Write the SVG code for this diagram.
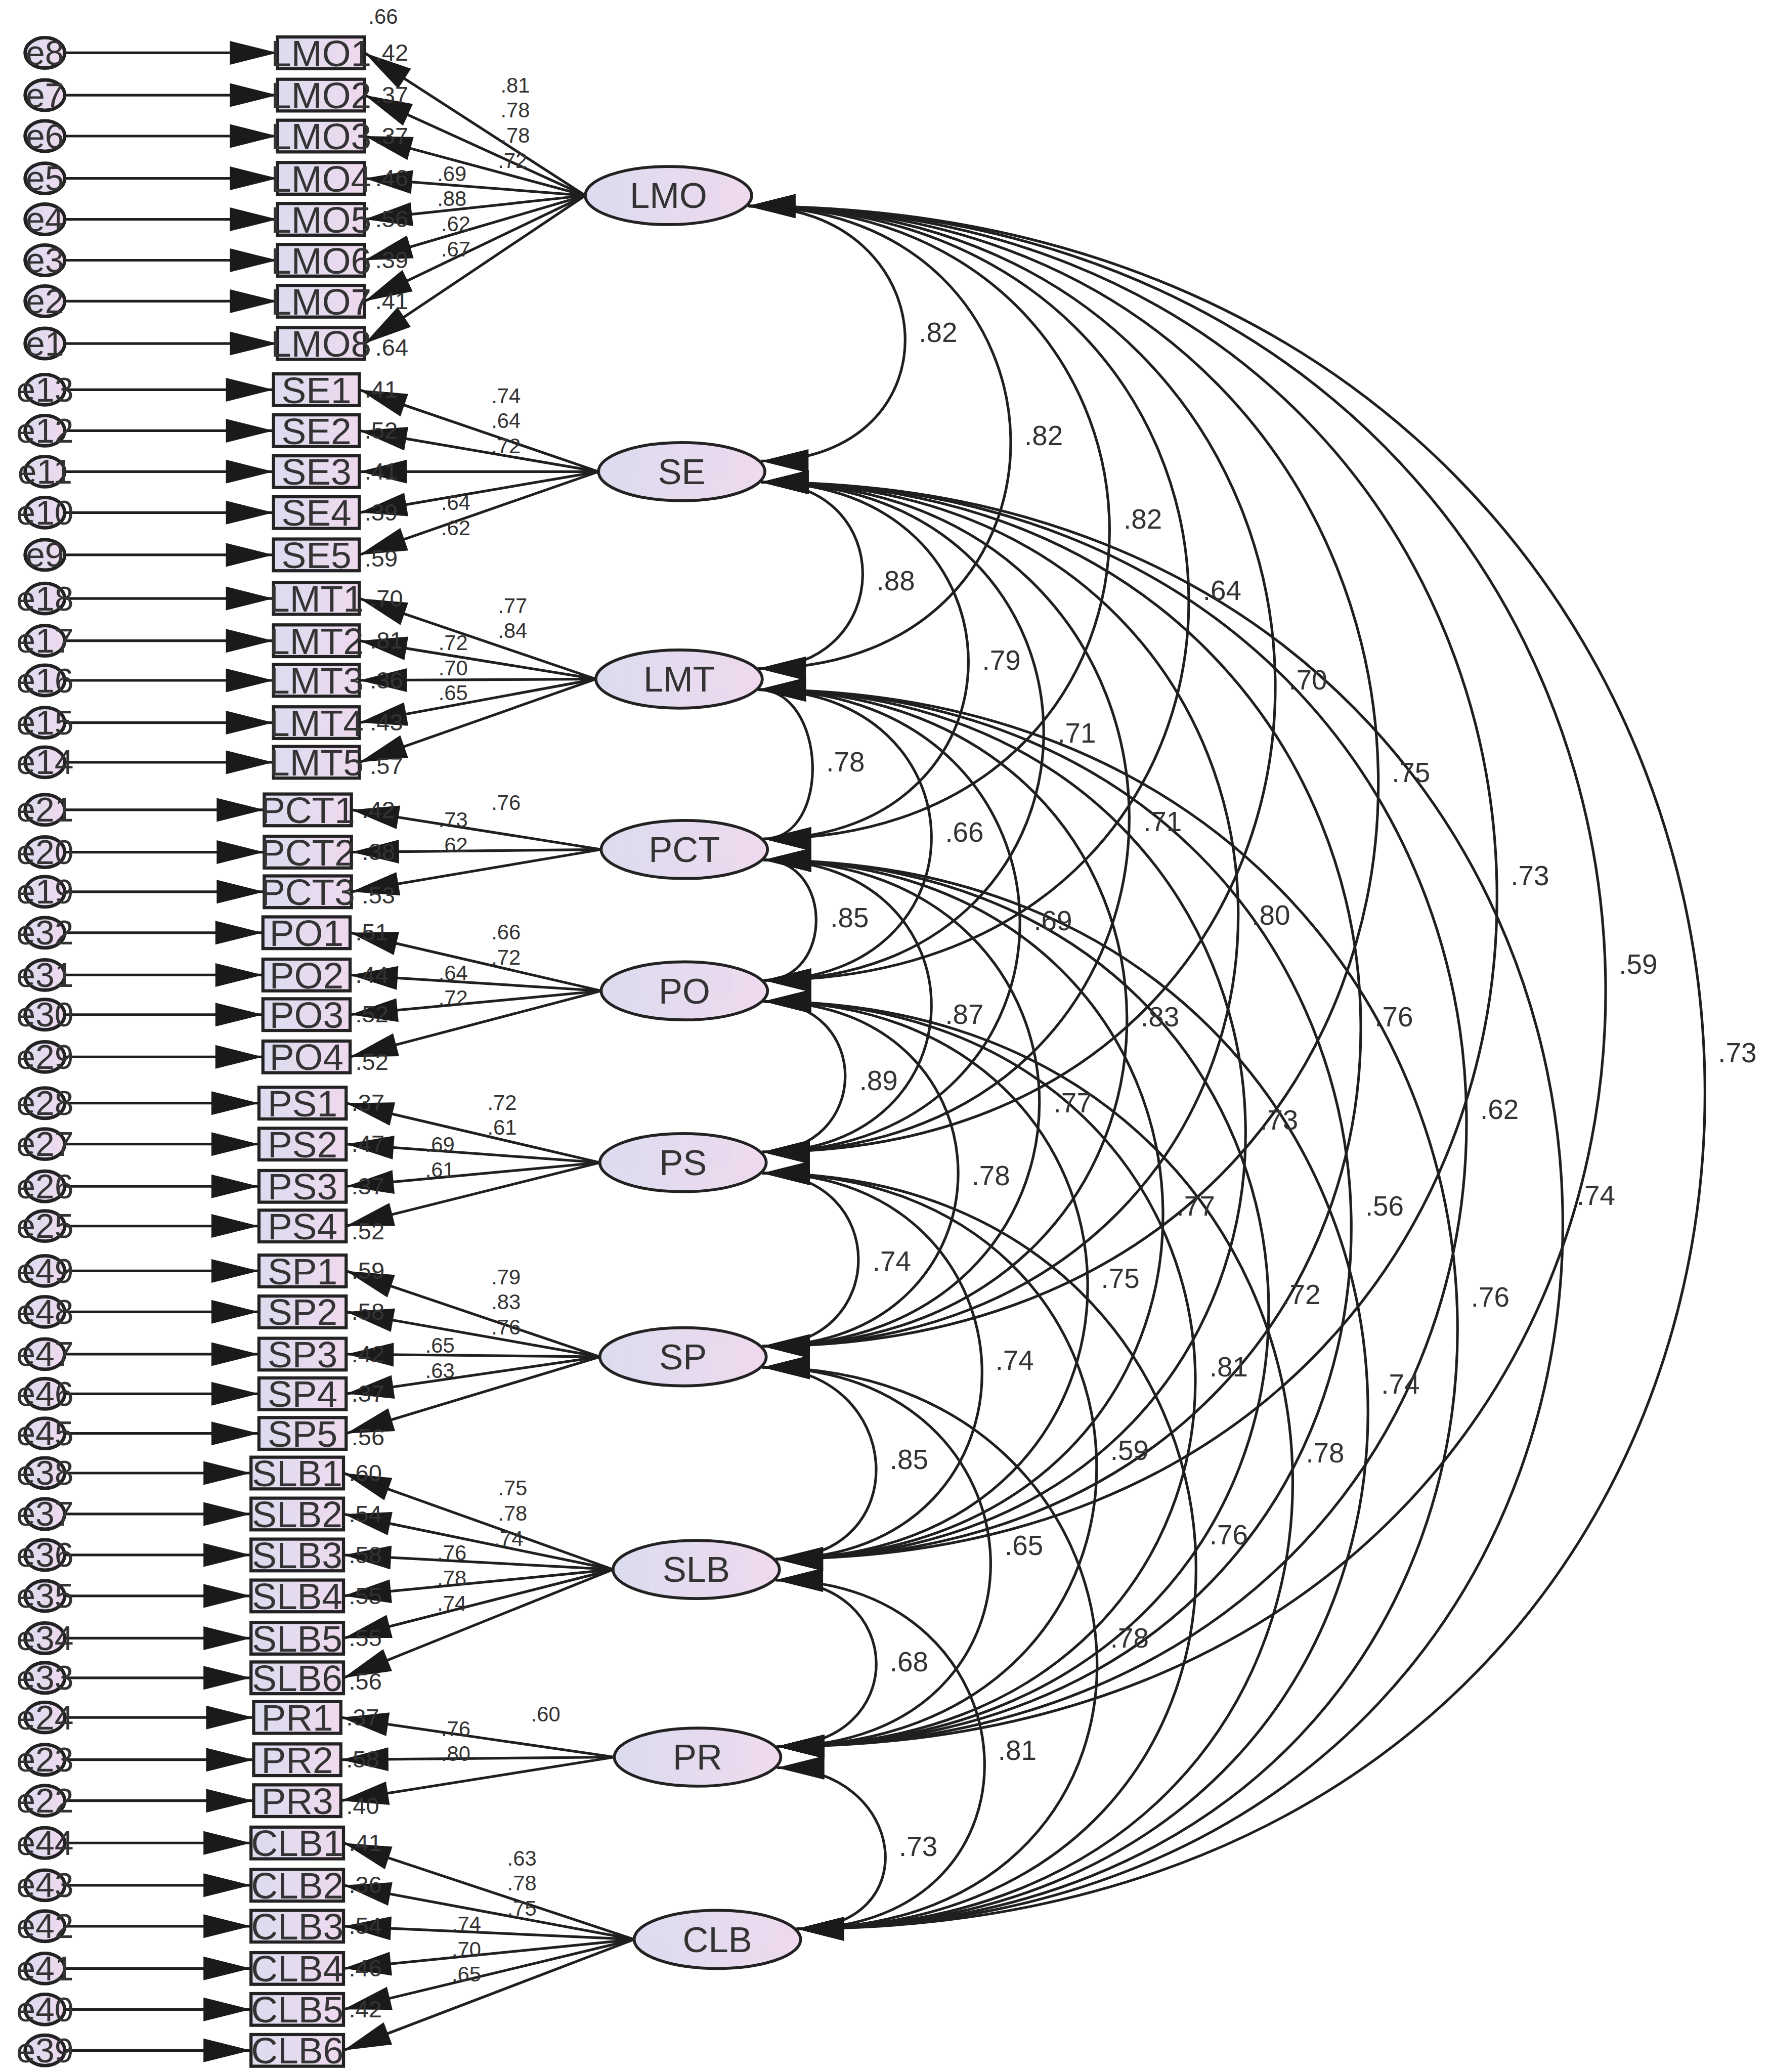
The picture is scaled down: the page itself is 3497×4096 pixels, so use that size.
<svg xmlns="http://www.w3.org/2000/svg" width="3497" height="4096" viewBox="0 0 3497 4096">
<defs>
<linearGradient id="g" x1="0" y1="0" x2="1" y2="0"><stop offset="0" stop-color="#dcdcef"/><stop offset="1" stop-color="#efd9ee"/></linearGradient>
<marker id="a" markerUnits="userSpaceOnUse" markerWidth="38" markerHeight="19" refX="36" refY="9" orient="auto" overflow="visible"><path d="M0 0L36 9L0 18z" fill="#1a1a1a"/></marker>
<marker id="b" markerUnits="userSpaceOnUse" markerWidth="38" markerHeight="19" refX="36" refY="9" orient="auto-start-reverse" overflow="visible"><path d="M0 0L36 9L0 18z" fill="#1a1a1a"/></marker>
<style>
.ln{stroke:#1f1f1f;stroke-width:2;fill:none;marker-end:url(#a)}
.cv{stroke:#1f1f1f;stroke-width:2;fill:none;marker-start:url(#b);marker-end:url(#b)}
.bx{fill:url(#g);stroke:#222;stroke-width:2.4}
.er{fill:url(#g);stroke:#222;stroke-width:2.6}
.fc{fill:url(#g);stroke:#222;stroke-width:2.2}
text{font-family:'Liberation Sans',Arial,sans-serif;fill:#333}
.te{font-size:26px;text-anchor:middle}
.tb{font-size:28px;text-anchor:middle}
.tf{font-size:27px;text-anchor:middle}
.tr{font-size:18px}
.tl{font-size:16px;text-anchor:middle}
.tc{font-size:21px;text-anchor:middle}
</style>
</defs>
<rect width="3497" height="4096" fill="#fff"/>
<g transform="scale(2.61165)">
<g id="connectors">
<path class="ln" d="M48 40H210"/><path class="ln" d="M48 72H210"/><path class="ln" d="M48 103H210"/><path class="ln" d="M48 135H210"/><path class="ln" d="M48 166H210"/><path class="ln" d="M48 197H210"/><path class="ln" d="M48 228H210"/><path class="ln" d="M48 260H210"/>
<path class="ln" d="M48 295H207"/><path class="ln" d="M48 326H207"/><path class="ln" d="M48 357H207"/><path class="ln" d="M48 388H207"/><path class="ln" d="M48 420H207"/>
<path class="ln" d="M48 453H207"/><path class="ln" d="M48 485H207"/><path class="ln" d="M48 515H207"/><path class="ln" d="M48 547H207"/><path class="ln" d="M48 577H207"/>
<path class="ln" d="M48 613H200"/><path class="ln" d="M48 645H200"/><path class="ln" d="M48 675H200"/>
<path class="ln" d="M48 706H199"/><path class="ln" d="M48 738H199"/><path class="ln" d="M48 768H199"/><path class="ln" d="M48 800H199"/>
<path class="ln" d="M48 835H196"/><path class="ln" d="M48 866H196"/><path class="ln" d="M48 898H196"/><path class="ln" d="M48 928H196"/>
<path class="ln" d="M48 962H196"/><path class="ln" d="M48 993H196"/><path class="ln" d="M48 1025H196"/><path class="ln" d="M48 1055H196"/><path class="ln" d="M48 1085H196"/>
<path class="ln" d="M48 1115H190"/><path class="ln" d="M48 1146H190"/><path class="ln" d="M48 1177H190"/><path class="ln" d="M48 1208H190"/><path class="ln" d="M48 1240H190"/><path class="ln" d="M48 1270H190"/>
<path class="ln" d="M48 1300H192"/><path class="ln" d="M48 1332H192"/><path class="ln" d="M48 1363H192"/>
<path class="ln" d="M48 1395H190"/><path class="ln" d="M48 1427H190"/><path class="ln" d="M48 1458H190"/><path class="ln" d="M48 1490H190"/><path class="ln" d="M48 1521H190"/><path class="ln" d="M48 1552H190"/>
<path class="ln" d="M443 148L276 40"/><path class="ln" d="M443 148L276 72"/><path class="ln" d="M443 148L276 103"/><path class="ln" d="M443 148L276 135"/><path class="ln" d="M443 148L276 166"/><path class="ln" d="M443 148L276 197"/><path class="ln" d="M443 148L276 228"/><path class="ln" d="M443 148L276 260"/>
<path class="ln" d="M453 357L272 295"/><path class="ln" d="M453 357L272 326"/><path class="ln" d="M453 357L272 357"/><path class="ln" d="M453 357L272 388"/><path class="ln" d="M453 357L272 420"/>
<path class="ln" d="M451 514L272 453"/><path class="ln" d="M451 514L272 485"/><path class="ln" d="M451 514L272 515"/><path class="ln" d="M451 514L272 547"/><path class="ln" d="M451 514L272 577"/>
<path class="ln" d="M455 643L266 613"/><path class="ln" d="M455 643L266 645"/><path class="ln" d="M455 643L266 675"/>
<path class="ln" d="M455 750L265 706"/><path class="ln" d="M455 750L265 738"/><path class="ln" d="M455 750L265 768"/><path class="ln" d="M455 750L265 800"/>
<path class="ln" d="M454 880L262 835"/><path class="ln" d="M454 880L262 866"/><path class="ln" d="M454 880L262 898"/><path class="ln" d="M454 880L262 928"/>
<path class="ln" d="M454 1027L262 962"/><path class="ln" d="M454 1027L262 993"/><path class="ln" d="M454 1027L262 1025"/><path class="ln" d="M454 1027L262 1055"/><path class="ln" d="M454 1027L262 1085"/>
<path class="ln" d="M464 1188L260 1115"/><path class="ln" d="M464 1188L260 1146"/><path class="ln" d="M464 1188L260 1177"/><path class="ln" d="M464 1188L260 1208"/><path class="ln" d="M464 1188L260 1240"/><path class="ln" d="M464 1188L260 1270"/>
<path class="ln" d="M465 1330L258 1300"/><path class="ln" d="M465 1330L258 1332"/><path class="ln" d="M465 1330L258 1363"/>
<path class="ln" d="M480 1468L260 1395"/><path class="ln" d="M480 1468L260 1427"/><path class="ln" d="M480 1468L260 1458"/><path class="ln" d="M480 1468L260 1490"/><path class="ln" d="M480 1468L260 1521"/><path class="ln" d="M480 1468L260 1552"/>
<path class="cv" d="M566 156C718 156 728 349 576 349"/>
<path class="cv" d="M566 156C826 156 834 506 574 506"/>
<path class="cv" d="M566 156C923 156 935 635 578 635"/>
<path class="cv" d="M566 156C1003 156 1015 742 578 742"/>
<path class="cv" d="M566 156C1091 156 1102 872 577 872"/>
<path class="cv" d="M566 156C1195 156 1206 1019 577 1019"/>
<path class="cv" d="M566 156C1308 156 1329 1180 587 1180"/>
<path class="cv" d="M566 156C1417 156 1439 1322 588 1322"/>
<path class="cv" d="M566 156C1507 156 1544 1460 603 1460"/>
<path class="cv" d="M576 365C680 365 678 506 574 506"/>
<path class="cv" d="M576 365C784 365 786 635 578 635"/>
<path class="cv" d="M576 365C860 365 862 742 578 742"/>
<path class="cv" d="M576 365C947 365 948 872 577 872"/>
<path class="cv" d="M576 365C1057 365 1058 1019 577 1019"/>
<path class="cv" d="M576 365C1174 365 1185 1180 587 1180"/>
<path class="cv" d="M576 365C1280 365 1292 1322 588 1322"/>
<path class="cv" d="M576 365C1367 365 1394 1460 603 1460"/>
<path class="cv" d="M574 522C626 522 630 635 578 635"/>
<path class="cv" d="M574 522C746 522 750 742 578 742"/>
<path class="cv" d="M574 522C836 522 839 872 577 872"/>
<path class="cv" d="M574 522C944 522 947 1019 577 1019"/>
<path class="cv" d="M574 522C1057 522 1070 1180 587 1180"/>
<path class="cv" d="M574 522C1163 522 1177 1322 588 1322"/>
<path class="cv" d="M574 522C1260 522 1289 1460 603 1460"/>
<path class="cv" d="M578 651C631 651 631 742 578 742"/>
<path class="cv" d="M578 651C748 651 747 872 577 872"/>
<path class="cv" d="M578 651C857 651 856 1019 577 1019"/>
<path class="cv" d="M578 651C975 651 984 1180 587 1180"/>
<path class="cv" d="M578 651C1081 651 1091 1322 588 1322"/>
<path class="cv" d="M578 651C1171 651 1196 1460 603 1460"/>
<path class="cv" d="M578 758C661 758 660 872 577 872"/>
<path class="cv" d="M578 758C775 758 774 1019 577 1019"/>
<path class="cv" d="M578 758C899 758 908 1180 587 1180"/>
<path class="cv" d="M578 758C1007 758 1017 1322 588 1322"/>
<path class="cv" d="M578 758C1095 758 1120 1460 603 1460"/>
<path class="cv" d="M577 888C674 888 674 1019 577 1019"/>
<path class="cv" d="M577 888C792 888 802 1180 587 1180"/>
<path class="cv" d="M577 888C907 888 918 1322 588 1322"/>
<path class="cv" d="M577 888C997 888 1023 1460 603 1460"/>
<path class="cv" d="M577 1035C685 1035 695 1180 587 1180"/>
<path class="cv" d="M577 1035C800 1035 811 1322 588 1322"/>
<path class="cv" d="M577 1035C897 1035 923 1460 603 1460"/>
<path class="cv" d="M587 1196C688 1196 689 1322 588 1322"/>
<path class="cv" d="M587 1196C787 1196 803 1460 603 1460"/>
<path class="cv" d="M588 1338C687 1338 702 1460 603 1460"/>
</g>
<g id="covariance-labels">
<text class="tc" x="710" y="259">.82</text>
<text class="tc" x="790" y="337">.82</text>
<text class="tc" x="865" y="400">.82</text>
<text class="tc" x="925" y="454">.64</text>
<text class="tc" x="990" y="522">.70</text>
<text class="tc" x="1068" y="592">.75</text>
<text class="tc" x="1158" y="670">.73</text>
<text class="tc" x="1240" y="737">.59</text>
<text class="tc" x="1315" y="804">.73</text>
<text class="tc" x="678" y="447">.88</text>
<text class="tc" x="758" y="507">.79</text>
<text class="tc" x="815" y="562">.71</text>
<text class="tc" x="880" y="629">.71</text>
<text class="tc" x="962" y="700">.80</text>
<text class="tc" x="1055" y="777">.76</text>
<text class="tc" x="1135" y="847">.62</text>
<text class="tc" x="1208" y="912">.74</text>
<text class="tc" x="640" y="584">.78</text>
<text class="tc" x="730" y="637">.66</text>
<text class="tc" x="797" y="704">.69</text>
<text class="tc" x="878" y="777">.83</text>
<text class="tc" x="968" y="855">.73</text>
<text class="tc" x="1048" y="920">.56</text>
<text class="tc" x="1128" y="989">.76</text>
<text class="tc" x="643" y="702">.85</text>
<text class="tc" x="730" y="775">.87</text>
<text class="tc" x="812" y="842">.77</text>
<text class="tc" x="905" y="920">.77</text>
<text class="tc" x="985" y="987">.72</text>
<text class="tc" x="1060" y="1055">.74</text>
<text class="tc" x="665" y="825">.89</text>
<text class="tc" x="750" y="897">.78</text>
<text class="tc" x="848" y="975">.75</text>
<text class="tc" x="930" y="1042">.81</text>
<text class="tc" x="1003" y="1107">.78</text>
<text class="tc" x="675" y="962">.74</text>
<text class="tc" x="768" y="1037">.74</text>
<text class="tc" x="855" y="1105">.59</text>
<text class="tc" x="930" y="1169">.76</text>
<text class="tc" x="688" y="1112">.85</text>
<text class="tc" x="775" y="1177">.65</text>
<text class="tc" x="855" y="1247">.78</text>
<text class="tc" x="688" y="1265">.68</text>
<text class="tc" x="770" y="1332">.81</text>
<text class="tc" x="695" y="1405">.73</text>
</g>
<g id="loading-labels">
<text class="tl" x="390" y="70">.81</text><text class="tl" x="390" y="89">.78</text><text class="tl" x="390" y="108">.78</text><text class="tl" x="388" y="127">.72</text>
<text class="tl" x="342" y="137">.69</text><text class="tl" x="342" y="156">.88</text><text class="tl" x="345" y="175">.62</text><text class="tl" x="345" y="194">.67</text>
<text class="tl" x="383" y="305">.74</text><text class="tl" x="383" y="324">.64</text><text class="tl" x="383" y="343">.72</text><text class="tl" x="345" y="386">.64</text><text class="tl" x="345" y="405">.62</text>
<text class="tl" x="388" y="464">.77</text><text class="tl" x="388" y="483">.84</text><text class="tl" x="343" y="492">.72</text><text class="tl" x="343" y="511">.70</text><text class="tl" x="343" y="530">.65</text>
<text class="tl" x="383" y="613">.76</text><text class="tl" x="343" y="626">.73</text><text class="tl" x="343" y="645">.62</text>
<text class="tl" x="383" y="711">.66</text><text class="tl" x="383" y="730">.72</text><text class="tl" x="343" y="742">.64</text><text class="tl" x="343" y="761">.72</text>
<text class="tl" x="380" y="840">.72</text><text class="tl" x="380" y="859">.61</text><text class="tl" x="333" y="872">.69</text><text class="tl" x="333" y="891">.61</text>
<text class="tl" x="383" y="972">.79</text><text class="tl" x="383" y="991">.83</text><text class="tl" x="383" y="1010">.76</text><text class="tl" x="333" y="1024">.65</text><text class="tl" x="333" y="1043">.63</text>
<text class="tl" x="388" y="1132">.75</text><text class="tl" x="388" y="1151">.78</text><text class="tl" x="385" y="1170">.74</text><text class="tl" x="342" y="1181">.76</text><text class="tl" x="342" y="1200">.78</text><text class="tl" x="342" y="1219">.74</text>
<text class="tl" x="413" y="1303">.60</text><text class="tl" x="345" y="1314">.76</text><text class="tl" x="345" y="1333">.80</text>
<text class="tl" x="395" y="1412">.63</text><text class="tl" x="395" y="1431">.78</text><text class="tl" x="395" y="1450">.75</text><text class="tl" x="353" y="1462">.74</text><text class="tl" x="353" y="1481">.70</text><text class="tl" x="353" y="1500">.65</text>
</g>
<g id="LMO"><ellipse class="fc" cx="506" cy="148" rx="63" ry="22"/><text class="tf" x="506" y="157.5">LMO</text></g>
<g id="SE"><ellipse class="fc" cx="516" cy="357" rx="63" ry="22"/><text class="tf" x="516" y="366.5">SE</text></g>
<g id="LMT"><ellipse class="fc" cx="514" cy="514" rx="63" ry="22"/><text class="tf" x="514" y="523.5">LMT</text></g>
<g id="PCT"><ellipse class="fc" cx="518" cy="643" rx="63" ry="22"/><text class="tf" x="518" y="652.5">PCT</text></g>
<g id="PO"><ellipse class="fc" cx="518" cy="750" rx="63" ry="22"/><text class="tf" x="518" y="759.5">PO</text></g>
<g id="PS"><ellipse class="fc" cx="517" cy="880" rx="63" ry="22"/><text class="tf" x="517" y="889.5">PS</text></g>
<g id="SP"><ellipse class="fc" cx="517" cy="1027" rx="63" ry="22"/><text class="tf" x="517" y="1036.5">SP</text></g>
<g id="SLB"><ellipse class="fc" cx="527" cy="1188" rx="63" ry="22"/><text class="tf" x="527" y="1197.5">SLB</text></g>
<g id="PR"><ellipse class="fc" cx="528" cy="1330" rx="63" ry="22"/><text class="tf" x="528" y="1339.5">PR</text></g>
<g id="CLB"><ellipse class="fc" cx="543" cy="1468" rx="63" ry="22"/><text class="tf" x="543" y="1477.5">CLB</text></g>
<g id="ind-LMO">
<g id="LMO1"><rect class="bx" x="210" y="28" width="66" height="24"/><text class="tb" x="243" y="50">LMO1</text><text class="tr" x="284" y="46">.42</text></g>
<g id="LMO2"><rect class="bx" x="210" y="60" width="66" height="24"/><text class="tb" x="243" y="82">LMO2</text><text class="tr" x="284" y="78">.37</text></g>
<g id="LMO3"><rect class="bx" x="210" y="91" width="66" height="24"/><text class="tb" x="243" y="113">LMO3</text><text class="tr" x="284" y="109">.37</text></g>
<g id="LMO4"><rect class="bx" x="210" y="123" width="66" height="24"/><text class="tb" x="243" y="145">LMO4</text><text class="tr" x="284" y="141">.46</text></g>
<g id="LMO5"><rect class="bx" x="210" y="154" width="66" height="24"/><text class="tb" x="243" y="176">LMO5</text><text class="tr" x="284" y="172">.56</text></g>
<g id="LMO6"><rect class="bx" x="210" y="185" width="66" height="24"/><text class="tb" x="243" y="207">LMO6</text><text class="tr" x="284" y="203">.39</text></g>
<g id="LMO7"><rect class="bx" x="210" y="216" width="66" height="24"/><text class="tb" x="243" y="238">LMO7</text><text class="tr" x="284" y="234">.41</text></g>
<g id="LMO8"><rect class="bx" x="210" y="248" width="66" height="24"/><text class="tb" x="243" y="270">LMO8</text><text class="tr" x="284" y="269">.64</text></g>
<text class="tl" x="290" y="18">.66</text>
</g>
<g id="ind-SE">
<g id="SE1"><rect class="bx" x="207" y="283" width="65" height="24"/><text class="tb" x="239.5" y="305">SE1</text><text class="tr" x="276" y="301">.41</text></g>
<g id="SE2"><rect class="bx" x="207" y="314" width="65" height="24"/><text class="tb" x="239.5" y="336">SE2</text><text class="tr" x="276" y="332">.52</text></g>
<g id="SE3"><rect class="bx" x="207" y="345" width="65" height="24"/><text class="tb" x="239.5" y="367">SE3</text><text class="tr" x="276" y="363">.41</text></g>
<g id="SE4"><rect class="bx" x="207" y="376" width="65" height="24"/><text class="tb" x="239.5" y="398">SE4</text><text class="tr" x="276" y="394">.39</text></g>
<g id="SE5"><rect class="bx" x="207" y="408" width="65" height="24"/><text class="tb" x="239.5" y="430">SE5</text><text class="tr" x="276" y="429">.59</text></g>
</g>
<g id="ind-LMT">
<g id="LMT1"><rect class="bx" x="207" y="441" width="65" height="24"/><text class="tb" x="239.5" y="463">LMT1</text><text class="tr" x="280" y="459">.70</text></g>
<g id="LMT2"><rect class="bx" x="207" y="473" width="65" height="24"/><text class="tb" x="239.5" y="495">LMT2</text><text class="tr" x="280" y="491">.81</text></g>
<g id="LMT3"><rect class="bx" x="207" y="503" width="65" height="24"/><text class="tb" x="239.5" y="525">LMT3</text><text class="tr" x="280" y="521">.36</text></g>
<g id="LMT4"><rect class="bx" x="207" y="535" width="65" height="24"/><text class="tb" x="239.5" y="557">LMT4</text><text class="tr" x="280" y="553">.43</text></g>
<g id="LMT5"><rect class="bx" x="207" y="565" width="65" height="24"/><text class="tb" x="239.5" y="587">LMT5</text><text class="tr" x="280" y="586">.57</text></g>
</g>
<g id="ind-PCT">
<g id="PCT1"><rect class="bx" x="200" y="601" width="66" height="24"/><text class="tb" x="233" y="623">PCT1</text><text class="tr" x="274" y="619">.42</text></g>
<g id="PCT2"><rect class="bx" x="200" y="633" width="66" height="24"/><text class="tb" x="233" y="655">PCT2</text><text class="tr" x="274" y="651">.38</text></g>
<g id="PCT3"><rect class="bx" x="200" y="663" width="66" height="24"/><text class="tb" x="233" y="685">PCT3</text><text class="tr" x="274" y="684">.53</text></g>
</g>
<g id="ind-PO">
<g id="PO1"><rect class="bx" x="199" y="694" width="66" height="24"/><text class="tb" x="232" y="716">PO1</text><text class="tr" x="269" y="712">.51</text></g>
<g id="PO2"><rect class="bx" x="199" y="726" width="66" height="24"/><text class="tb" x="232" y="748">PO2</text><text class="tr" x="269" y="744">.44</text></g>
<g id="PO3"><rect class="bx" x="199" y="756" width="66" height="24"/><text class="tb" x="232" y="778">PO3</text><text class="tr" x="269" y="774">.52</text></g>
<g id="PO4"><rect class="bx" x="199" y="788" width="66" height="24"/><text class="tb" x="232" y="810">PO4</text><text class="tr" x="269" y="810">.52</text></g>
</g>
<g id="ind-PS">
<g id="PS1"><rect class="bx" x="196" y="823" width="66" height="24"/><text class="tb" x="229" y="845">PS1</text><text class="tr" x="266" y="841">.37</text></g>
<g id="PS2"><rect class="bx" x="196" y="854" width="66" height="24"/><text class="tb" x="229" y="876">PS2</text><text class="tr" x="266" y="872">.47</text></g>
<g id="PS3"><rect class="bx" x="196" y="886" width="66" height="24"/><text class="tb" x="229" y="908">PS3</text><text class="tr" x="266" y="904">.37</text></g>
<g id="PS4"><rect class="bx" x="196" y="916" width="66" height="24"/><text class="tb" x="229" y="938">PS4</text><text class="tr" x="266" y="938">.52</text></g>
</g>
<g id="ind-SP">
<g id="SP1"><rect class="bx" x="196" y="950" width="66" height="24"/><text class="tb" x="229" y="972">SP1</text><text class="tr" x="266" y="968">.59</text></g>
<g id="SP2"><rect class="bx" x="196" y="981" width="66" height="24"/><text class="tb" x="229" y="1003">SP2</text><text class="tr" x="266" y="999">.58</text></g>
<g id="SP3"><rect class="bx" x="196" y="1013" width="66" height="24"/><text class="tb" x="229" y="1035">SP3</text><text class="tr" x="266" y="1031">.42</text></g>
<g id="SP4"><rect class="bx" x="196" y="1043" width="66" height="24"/><text class="tb" x="229" y="1065">SP4</text><text class="tr" x="266" y="1061">.37</text></g>
<g id="SP5"><rect class="bx" x="196" y="1073" width="66" height="24"/><text class="tb" x="229" y="1095">SP5</text><text class="tr" x="266" y="1094">.56</text></g>
</g>
<g id="ind-SLB">
<g id="SLB1"><rect class="bx" x="190" y="1103" width="70" height="24"/><text class="tb" x="225" y="1125">SLB1</text><text class="tr" x="264" y="1121">.60</text></g>
<g id="SLB2"><rect class="bx" x="190" y="1134" width="70" height="24"/><text class="tb" x="225" y="1156">SLB2</text><text class="tr" x="264" y="1152">.54</text></g>
<g id="SLB3"><rect class="bx" x="190" y="1165" width="70" height="24"/><text class="tb" x="225" y="1187">SLB3</text><text class="tr" x="264" y="1183">.58</text></g>
<g id="SLB4"><rect class="bx" x="190" y="1196" width="70" height="24"/><text class="tb" x="225" y="1218">SLB4</text><text class="tr" x="264" y="1214">.55</text></g>
<g id="SLB5"><rect class="bx" x="190" y="1228" width="70" height="24"/><text class="tb" x="225" y="1250">SLB5</text><text class="tr" x="264" y="1246">.55</text></g>
<g id="SLB6"><rect class="bx" x="190" y="1258" width="70" height="24"/><text class="tb" x="225" y="1280">SLB6</text><text class="tr" x="264" y="1279">.56</text></g>
</g>
<g id="ind-PR">
<g id="PR1"><rect class="bx" x="192" y="1288" width="66" height="24"/><text class="tb" x="225" y="1310">PR1</text><text class="tr" x="262" y="1306">.37</text></g>
<g id="PR2"><rect class="bx" x="192" y="1320" width="66" height="24"/><text class="tb" x="225" y="1342">PR2</text><text class="tr" x="262" y="1338">.58</text></g>
<g id="PR3"><rect class="bx" x="192" y="1351" width="66" height="24"/><text class="tb" x="225" y="1373">PR3</text><text class="tr" x="262" y="1373">.40</text></g>
</g>
<g id="ind-CLB">
<g id="CLB1"><rect class="bx" x="190" y="1383" width="70" height="24"/><text class="tb" x="225" y="1405">CLB1</text><text class="tr" x="264" y="1401">.41</text></g>
<g id="CLB2"><rect class="bx" x="190" y="1415" width="70" height="24"/><text class="tb" x="225" y="1437">CLB2</text><text class="tr" x="264" y="1433">.36</text></g>
<g id="CLB3"><rect class="bx" x="190" y="1446" width="70" height="24"/><text class="tb" x="225" y="1468">CLB3</text><text class="tr" x="264" y="1464">.54</text></g>
<g id="CLB4"><rect class="bx" x="190" y="1478" width="70" height="24"/><text class="tb" x="225" y="1500">CLB4</text><text class="tr" x="264" y="1496">.46</text></g>
<g id="CLB5"><rect class="bx" x="190" y="1509" width="70" height="24"/><text class="tb" x="225" y="1531">CLB5</text><text class="tr" x="264" y="1527">.42</text></g>
<g id="CLB6"><rect class="bx" x="190" y="1540" width="70" height="24"/><text class="tb" x="225" y="1562">CLB6</text></g>
</g>
<g id="errors">
<g id="e8"><ellipse class="er" cx="34" cy="40" rx="15" ry="11.5"/><text class="te" x="34" y="49">e8</text></g>
<g id="e7"><ellipse class="er" cx="34" cy="72" rx="15" ry="11.5"/><text class="te" x="34" y="81">e7</text></g>
<g id="e6"><ellipse class="er" cx="34" cy="103" rx="15" ry="11.5"/><text class="te" x="34" y="112">e6</text></g>
<g id="e5"><ellipse class="er" cx="34" cy="135" rx="15" ry="11.5"/><text class="te" x="34" y="144">e5</text></g>
<g id="e4"><ellipse class="er" cx="34" cy="166" rx="15" ry="11.5"/><text class="te" x="34" y="175">e4</text></g>
<g id="e3"><ellipse class="er" cx="34" cy="197" rx="15" ry="11.5"/><text class="te" x="34" y="206">e3</text></g>
<g id="e2"><ellipse class="er" cx="34" cy="228" rx="15" ry="11.5"/><text class="te" x="34" y="237">e2</text></g>
<g id="e1"><ellipse class="er" cx="34" cy="260" rx="15" ry="11.5"/><text class="te" x="34" y="269">e1</text></g>
<g id="e13"><ellipse class="er" cx="34" cy="295" rx="15" ry="11.5"/><text class="te" x="34" y="304">e13</text></g>
<g id="e12"><ellipse class="er" cx="34" cy="326" rx="15" ry="11.5"/><text class="te" x="34" y="335">e12</text></g>
<g id="e11"><ellipse class="er" cx="34" cy="357" rx="15" ry="11.5"/><text class="te" x="34" y="366">e11</text></g>
<g id="e10"><ellipse class="er" cx="34" cy="388" rx="15" ry="11.5"/><text class="te" x="34" y="397">e10</text></g>
<g id="e9"><ellipse class="er" cx="34" cy="420" rx="15" ry="11.5"/><text class="te" x="34" y="429">e9</text></g>
<g id="e18"><ellipse class="er" cx="34" cy="453" rx="15" ry="11.5"/><text class="te" x="34" y="462">e18</text></g>
<g id="e17"><ellipse class="er" cx="34" cy="485" rx="15" ry="11.5"/><text class="te" x="34" y="494">e17</text></g>
<g id="e16"><ellipse class="er" cx="34" cy="515" rx="15" ry="11.5"/><text class="te" x="34" y="524">e16</text></g>
<g id="e15"><ellipse class="er" cx="34" cy="547" rx="15" ry="11.5"/><text class="te" x="34" y="556">e15</text></g>
<g id="e14"><ellipse class="er" cx="34" cy="577" rx="15" ry="11.5"/><text class="te" x="34" y="586">e14</text></g>
<g id="e21"><ellipse class="er" cx="34" cy="613" rx="15" ry="11.5"/><text class="te" x="34" y="622">e21</text></g>
<g id="e20"><ellipse class="er" cx="34" cy="645" rx="15" ry="11.5"/><text class="te" x="34" y="654">e20</text></g>
<g id="e19"><ellipse class="er" cx="34" cy="675" rx="15" ry="11.5"/><text class="te" x="34" y="684">e19</text></g>
<g id="e32"><ellipse class="er" cx="34" cy="706" rx="15" ry="11.5"/><text class="te" x="34" y="715">e32</text></g>
<g id="e31"><ellipse class="er" cx="34" cy="738" rx="15" ry="11.5"/><text class="te" x="34" y="747">e31</text></g>
<g id="e30"><ellipse class="er" cx="34" cy="768" rx="15" ry="11.5"/><text class="te" x="34" y="777">e30</text></g>
<g id="e29"><ellipse class="er" cx="34" cy="800" rx="15" ry="11.5"/><text class="te" x="34" y="809">e29</text></g>
<g id="e28"><ellipse class="er" cx="34" cy="835" rx="15" ry="11.5"/><text class="te" x="34" y="844">e28</text></g>
<g id="e27"><ellipse class="er" cx="34" cy="866" rx="15" ry="11.5"/><text class="te" x="34" y="875">e27</text></g>
<g id="e26"><ellipse class="er" cx="34" cy="898" rx="15" ry="11.5"/><text class="te" x="34" y="907">e26</text></g>
<g id="e25"><ellipse class="er" cx="34" cy="928" rx="15" ry="11.5"/><text class="te" x="34" y="937">e25</text></g>
<g id="e49"><ellipse class="er" cx="34" cy="962" rx="15" ry="11.5"/><text class="te" x="34" y="971">e49</text></g>
<g id="e48"><ellipse class="er" cx="34" cy="993" rx="15" ry="11.5"/><text class="te" x="34" y="1002">e48</text></g>
<g id="e47"><ellipse class="er" cx="34" cy="1025" rx="15" ry="11.5"/><text class="te" x="34" y="1034">e47</text></g>
<g id="e46"><ellipse class="er" cx="34" cy="1055" rx="15" ry="11.5"/><text class="te" x="34" y="1064">e46</text></g>
<g id="e45"><ellipse class="er" cx="34" cy="1085" rx="15" ry="11.5"/><text class="te" x="34" y="1094">e45</text></g>
<g id="e38"><ellipse class="er" cx="34" cy="1115" rx="15" ry="11.5"/><text class="te" x="34" y="1124">e38</text></g>
<g id="e37"><ellipse class="er" cx="34" cy="1146" rx="15" ry="11.5"/><text class="te" x="34" y="1155">e37</text></g>
<g id="e36"><ellipse class="er" cx="34" cy="1177" rx="15" ry="11.5"/><text class="te" x="34" y="1186">e36</text></g>
<g id="e35"><ellipse class="er" cx="34" cy="1208" rx="15" ry="11.5"/><text class="te" x="34" y="1217">e35</text></g>
<g id="e34"><ellipse class="er" cx="34" cy="1240" rx="15" ry="11.5"/><text class="te" x="34" y="1249">e34</text></g>
<g id="e33"><ellipse class="er" cx="34" cy="1270" rx="15" ry="11.5"/><text class="te" x="34" y="1279">e33</text></g>
<g id="e24"><ellipse class="er" cx="34" cy="1300" rx="15" ry="11.5"/><text class="te" x="34" y="1309">e24</text></g>
<g id="e23"><ellipse class="er" cx="34" cy="1332" rx="15" ry="11.5"/><text class="te" x="34" y="1341">e23</text></g>
<g id="e22"><ellipse class="er" cx="34" cy="1363" rx="15" ry="11.5"/><text class="te" x="34" y="1372">e22</text></g>
<g id="e44"><ellipse class="er" cx="34" cy="1395" rx="15" ry="11.5"/><text class="te" x="34" y="1404">e44</text></g>
<g id="e43"><ellipse class="er" cx="34" cy="1427" rx="15" ry="11.5"/><text class="te" x="34" y="1436">e43</text></g>
<g id="e42"><ellipse class="er" cx="34" cy="1458" rx="15" ry="11.5"/><text class="te" x="34" y="1467">e42</text></g>
<g id="e41"><ellipse class="er" cx="34" cy="1490" rx="15" ry="11.5"/><text class="te" x="34" y="1499">e41</text></g>
<g id="e40"><ellipse class="er" cx="34" cy="1521" rx="15" ry="11.5"/><text class="te" x="34" y="1530">e40</text></g>
<g id="e39"><ellipse class="er" cx="34" cy="1552" rx="15" ry="11.5"/><text class="te" x="34" y="1561">e39</text></g>
</g>
</g>
</svg>
